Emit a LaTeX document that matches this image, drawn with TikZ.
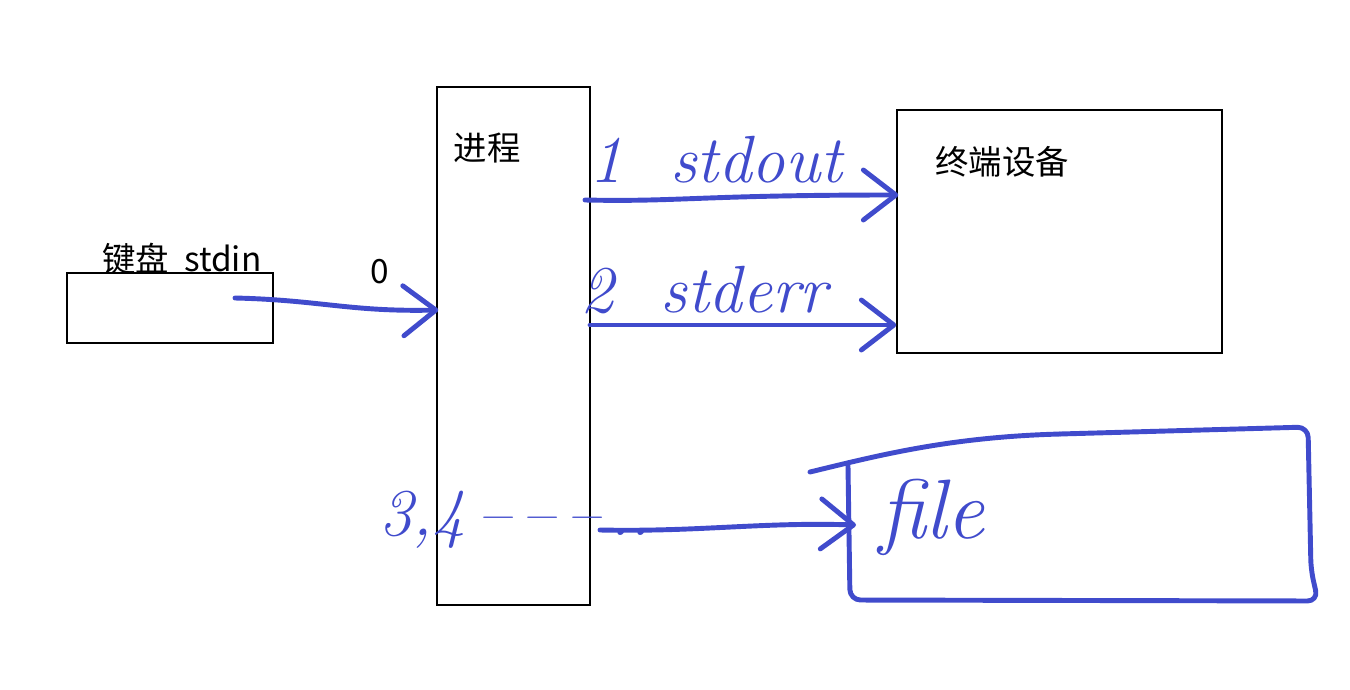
\documentclass[tikz,border=0pt]{standalone}
\usepackage{fontspec}
\newfontfamily\cjk{Noto Sans CJK SC}
\usetikzlibrary{arrows.meta, positioning, calc}
\definecolor{pen}{RGB}{64,75,204}

\begin{document}
\begin{tikzpicture}[x=0.02cm, y=-0.02cm,
	blackbox/.style={rectangle, draw, line width=0.8pt, inner sep=0pt},
	pen/.style={draw=pen, line width=2.8pt, line cap=round, line join=round},
	arrow/.style={pen, -{Straight Barb[length=6.5mm, width=10mm, round]}},
	tag/.style={font=\cjk\fontsize{19}{21}\selectfont, inner sep=0pt},
	hand/.style={text=pen, font=\itshape\fontsize{38}{40}\selectfont, inner sep=0pt}
	]
	\useasboundingbox (0,0) rectangle (1350,690);
	% boxes
	\node[blackbox, minimum width=4.12cm, minimum height=1.4cm] (kbd) at (170,308) {};
	\node[blackbox, minimum width=3.06cm, minimum height=10.36cm] (proc) at (513.5,346) {};
	\node[blackbox, minimum width=6.5cm, minimum height=4.86cm] (term) at (1059.5,231.5) {};
	\node[tag] (kbdtag) at (182,259) {键盘\ \ stdin};
	\node[tag] (proctag) at (487,148) {进程};
	\node[tag] (termtag) at (1002,162) {终端设备};
	\node[tag] (zero) at (380,272) {0};
	% the file, drawn by hand
	\draw[pen, rounded corners=6pt] (1060,434) -- (1308,427) -- (1311,570) -- (1318,601) -- (850,600) -- (848,466);
	\draw[pen] (810,472) .. controls (880,455) and (950,437) .. (1060,434);
	\coordinate (fileW) at (856,525);
	\node[hand, font=\itshape\fontsize{48}{50}\selectfont] (filetag) at (932,517) {file};
	% streams
	\coordinate (in0) at (235,298);
	\coordinate (out1) at (585,200);
	\coordinate (out2) at (590,325);
	\coordinate (out3) at (600,530);
	\draw[arrow] (in0) .. controls (320,300) and (350,312) .. ([xshift=0.04cm]proc.west |- 0,310);
	\draw[arrow] (out1) .. controls (680,202) and (700,195) .. ([xshift=0.04cm]term.west |- 0,195);
	\draw[arrow] (out2) -- (term.west |- 0,325);
	\draw[arrow] (out3) .. controls (700,532) and (760,522) .. (fileW);
	\node[hand] (t1) at (716,160) {1\ \ stdout};
	\node[hand] (t2) at (704,290) {2\ \ stderr};
	\node[hand] (t3) at (515,520) {3,4\,--\,--\,--\,..};
\end{tikzpicture}
\end{document}
